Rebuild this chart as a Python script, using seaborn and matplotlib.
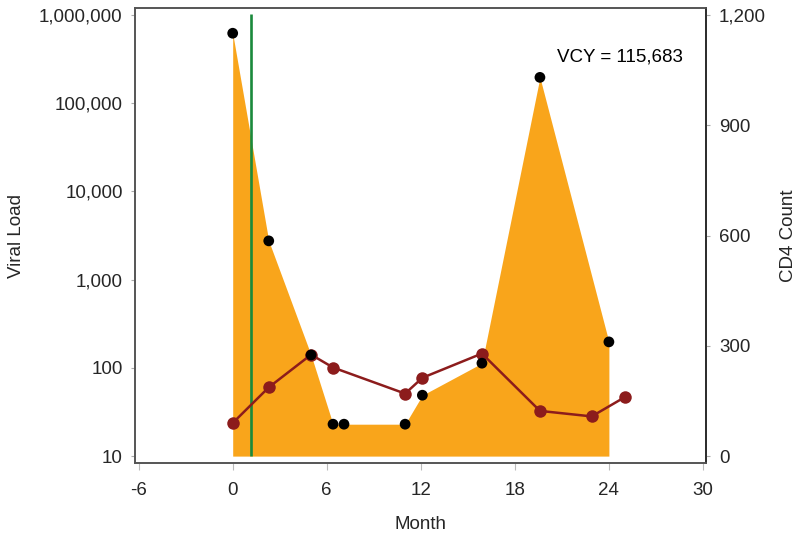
import matplotlib
matplotlib.use("Agg")
import matplotlib.pyplot as plt
from matplotlib.ticker import FixedLocator, FixedFormatter, NullLocator
import seaborn as sns
import numpy as np

# ---- data ----
vl_month = [0, 2.3, 5.0, 6.4, 7.1, 11.0, 12.1, 15.9, 19.6, 24.0]
viral_load = [620000, 2750, 140, 23, 23, 23, 49, 113, 196000, 197]
cd4_month = [0, 2.3, 5.0, 6.4, 11.0, 12.1, 15.9, 19.6, 22.9, 25.0]
cd4_count = [90, 187, 276, 241, 170, 213, 279, 123, 108, 160]
art_start_month = 1.18
vcy_value = 115683
x_ticks = [-6, 0, 6, 12, 18, 24, 30]
vl_ticks = [10, 100, 1000, 10000, 100000, 1000000]
cd4_ticks = [0, 300, 600, 900, 1200]

sns.set_style("white")
plt.rcParams['font.family'] = ['Liberation Sans', 'DejaVu Sans']
FS = 13.5

ORANGE = "#F9A51B"
DARKRED = "#8C1C1C"
GREEN = "#1A8A3C"

fig = plt.figure(figsize=(8, 5.36), dpi=100)
ax = fig.add_axes([0.169, 0.1367, 0.714, 0.8478])

# bottom layer: viral load area
ax.set_yscale('log')
ax.fill_between(vl_month, 10, viral_load, color=ORANGE, linewidth=0, zorder=1)
ax.vlines(art_start_month, 10, 1.02e6, color=GREEN, linewidth=1.9, zorder=2)

lo, hi = 0.925, 6.075
ax.set_ylim(10 ** lo, 10 ** hi)
ax.set_xlim(-6.22, 30.22)

# middle layer: CD4
ax2 = ax.twinx()
sns.lineplot(x=cd4_month, y=cd4_count, ax=ax2, color=DARKRED, marker='o',
             markersize=9, markeredgewidth=0, linewidth=1.8, sort=False)
ax2.set_ylim(-18, 1218)

# top layer: viral load points
ax3 = ax.twinx()
ax3.set_yscale('log')
sns.scatterplot(x=vl_month, y=viral_load, ax=ax3, color="black", s=60,
                edgecolor="none", zorder=5)
ax3.set_ylim(10 ** lo, 10 ** hi)
ax3.yaxis.set_major_locator(NullLocator())
ax3.yaxis.set_minor_locator(NullLocator())
ax3.set_yticklabels([])
for s in ax3.spines.values():
    s.set_visible(False)

# left axis ticks
ax.yaxis.set_major_locator(FixedLocator(vl_ticks))
ax.yaxis.set_major_formatter(FixedFormatter([f"{v:,}" for v in vl_ticks]))
ax.yaxis.set_minor_locator(NullLocator())
ax.tick_params(axis='y', which='major', labelsize=FS, length=3, width=0.8,
               color="#AAAAAA", pad=6, left=True)
ax.set_xticks(x_ticks)
ax.set_xticklabels([str(v) for v in x_ticks])
ax.tick_params(axis='x', labelsize=FS, length=5, width=0.8, color="#BBBBBB",
               pad=9, bottom=True)

ax2.set_yticks(cd4_ticks)
ax2.set_yticklabels([f"{v:,}" for v in cd4_ticks])
ax2.tick_params(axis='y', labelsize=FS, length=3, width=0.8, color="#AAAAAA",
                pad=6, right=True)

ax.set_xlabel("Month", fontsize=FS, labelpad=12)
ax.set_ylabel("Viral Load", fontsize=FS, labelpad=10)
ax2.set_ylabel("CD4 Count", fontsize=FS, labelpad=10)

for a in (ax, ax2):
    for name, s in a.spines.items():
        s.set_linewidth(1.2)
        s.set_color("#555555")
ax2.spines['right'].set_color("#222222")

ax.text(0.738, 0.892, f"VCY = {vcy_value:,}", transform=ax.transAxes,
        fontsize=FS, ha='left', va='center', color="black")

fig.savefig("out.png", dpi=100)
